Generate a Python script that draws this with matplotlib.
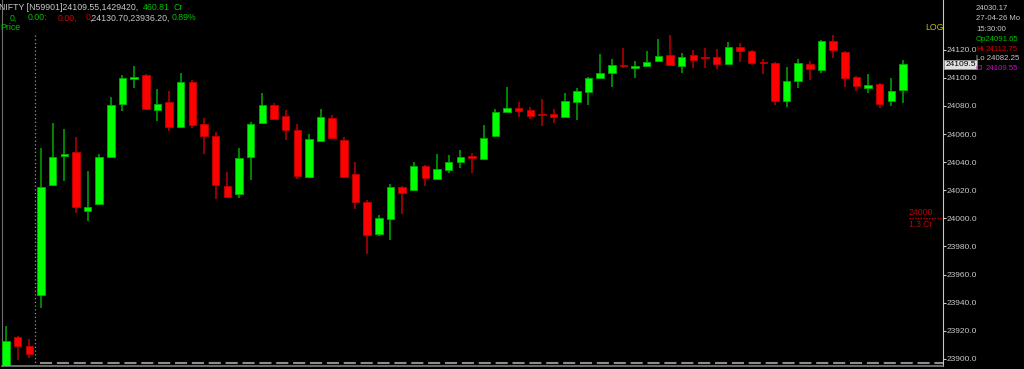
import matplotlib
matplotlib.use("Agg")
import matplotlib.pyplot as plt
import matplotlib.transforms as mtransforms
import numpy as np

# 5 minute NIFTY candles, 3 from the previous session then 27-04-26 session
opens = [23894.0, 23915.3, 23909.3, 23945.2, 24023.7, 24044.6, 24047.2, 24005.4, 24010.2, 24043.8,
         24081.1, 24098.9, 24102.2, 24077.1, 24082.8, 24064.8, 24096.8, 24066.9, 24058.6, 24022.8,
         24017.5, 24043.4, 24068.0, 24080.6, 24073.0, 24062.8, 24029.4, 24055.0, 24071.2, 24055.7,
         24031.5, 24011.4, 23989.0, 23999.7, 24022.3, 24020.4, 24037.2, 24027.8, 24034.4, 24039.9,
         24044.1, 24042.4, 24058.6, 24075.7, 24078.7, 24076.9, 24073.9, 24074.2, 24072.3, 24083.0,
         24089.7, 24099.9, 24103.6, 24109.3, 24107.2, 24108.6, 24112.0, 24116.4, 24108.6, 24116.4,
         24114.6, 24115.0, 24110.0, 24121.7, 24119.3, 24111.2, 24110.7, 24083.5, 24097.5, 24109.8,
         24105.8, 24126.0, 24118.4, 24100.6, 24092.5, 24095.8, 24083.5, 24091.65]
highs = [23923.6, 23916.5, 23913.9, 24050.2, 24068.0, 24063.3, 24058.1, 24033.7, 24045.6, 24086.1,
         24102.2, 24108.6, 24103.0, 24091.8, 24090.6, 24103.6, 24098.5, 24071.6, 24061.6, 24033.0,
         24049.8, 24068.5, 24089.4, 24082.3, 24076.9, 24067.3, 24059.8, 24078.0, 24073.7, 24058.1,
         24040.3, 24013.0, 24002.3, 24024.4, 24023.0, 24040.3, 24037.9, 24045.8, 24045.3, 24048.8,
         24046.5, 24066.6, 24078.0, 24093.5, 24082.8, 24079.0, 24084.7, 24077.8, 24089.2, 24092.5,
         24100.8, 24116.9, 24113.2, 24121.0, 24111.7, 24119.1, 24127.6, 24130.7, 24117.4, 24119.8,
         24121.0, 24120.5, 24125.3, 24124.6, 24120.0, 24113.2, 24111.0, 24107.9, 24113.2, 24112.2,
         24126.9, 24130.5, 24118.8, 24101.0, 24102.9, 24096.3, 24100.1, 24112.75]
lows = [23893.0, 23899.1, 23900.4, 23936.2, 24023.0, 24026.5, 24004.0, 23998.3, 24009.5, 24043.0,
        24076.4, 24093.0, 24077.0, 24069.3, 24062.1, 24064.0, 24064.5, 24046.0, 24013.7, 24015.0,
        24014.7, 24027.0, 24066.9, 24070.5, 24055.5, 24027.8, 24029.0, 24054.1, 24056.5, 24029.0,
        24006.4, 23974.6, 23987.6, 23984.6, 24003.1, 24019.4, 24023.0, 24027.5, 24032.5, 24036.0,
        24032.0, 24042.0, 24058.2, 24075.4, 24071.9, 24070.7, 24065.9, 24068.0, 24072.0, 24070.0,
        24080.4, 24099.5, 24093.7, 24107.2, 24100.1, 24107.7, 24111.5, 24109.0, 24103.2, 24107.2,
        24107.2, 24106.5, 24109.5, 24111.5, 24109.3, 24102.9, 24080.9, 24079.4, 24092.5, 24098.4,
        24103.6, 24114.1, 24093.7, 24090.6, 24089.4, 24078.5, 24079.9, 24082.25]
closes = [23912.9, 23909.3, 23903.4, 24022.5, 24043.6, 24045.8, 24007.8, 24008.0, 24043.6, 24080.9,
          24099.6, 24100.8, 24078.0, 24081.6, 24065.0, 24097.2, 24066.2, 24058.4, 24023.7, 24015.4,
          24043.1, 24067.3, 24080.4, 24070.9, 24062.8, 24030.3, 24056.2, 24072.1, 24056.9, 24029.4,
          24011.8, 23988.1, 24000.4, 24022.1, 24018.2, 24037.4, 24028.5, 24035.1, 24040.3, 24043.6,
          24043.1, 24057.2, 24075.9, 24078.3, 24076.4, 24072.6, 24073.2, 24072.1, 24083.3, 24090.4,
          24100.1, 24103.4, 24109.3, 24108.2, 24108.4, 24111.0, 24115.7, 24109.3, 24115.0, 24112.9,
          24113.9, 24110.0, 24121.7, 24119.1, 24110.5, 24110.5, 24083.5, 24097.7, 24110.3, 24106.0,
          24126.4, 24119.6, 24099.9, 24094.0, 24094.7, 24081.6, 24090.8, 24109.55]

session_start = 2.5          # dotted separator between sessions
day_low_line = 23897.3
last_price = 24109.55
alert_price = 24000
yticks = np.arange(23900, 24121, 20)

W, H = 1024, 369
fig = plt.figure(figsize=(W / 100, H / 100), dpi=100, facecolor="black")
ax = fig.add_axes([2 / W, 3 / H, 941 / W, 366 / H], facecolor="black")

n = len(opens)
x = np.arange(n)
o = np.array(opens)
c = np.array(closes)
up = c >= o
up[[40, 46, 53, 60, 65]] = False

body_col = np.where(up, "#00ff00", "#ff0000")
edge_col = np.where(up, "#00b000", "#c00000")
wick_col = np.where(up, "#009000", "#a00000")

ax.vlines(x, lows, highs, colors=wick_col, linewidth=1.3, zorder=2)
bottoms = np.minimum(o, c)
heights = np.maximum(np.abs(c - o), 1.0)
ax.bar(x, heights, bottom=bottoms, width=0.64, color=body_col,
       edgecolor=edge_col, linewidth=0.6, zorder=3)

ax.set_xlim(-0.343, 80.43)
ax.set_ylim(23894.9, 24155.4)

# session separator and bottom dashed line
ax.vlines(session_start, 23890, 24132, colors="#909090", linestyles=(0, (1, 2)), linewidth=0.9)
ax.hlines(day_low_line, 2.9, 80.43, colors="#8c8c8c", linestyles=(0, (5.8, 2.3)), linewidth=1.5)

# alert level
ax.hlines(alert_price, 77.5, 80.43, colors="#c00000", linestyles=(0, (1, 1)), linewidth=1)
ax.text(77.5, alert_price + 1.2, "24000", color="#c00000", fontsize=6.2,
        family="Liberation Sans", ha="left", va="bottom")
ax.text(77.5, alert_price - 1.2, "1.3 Cr", color="#c00000", fontsize=6.2,
        family="Liberation Sans", ha="left", va="top")

# right price axis
ax.yaxis.tick_right()
ax.set_yticks(yticks)
ax.set_yticklabels([f"{v:.1f}" for v in yticks])
ax.tick_params(axis="y", colors="#c8c8c8", labelcolor="#c8c8c8", labelsize=6.0,
               length=2.2, width=0.8, pad=0.3)
for lab in ax.get_yticklabels():
    lab.set_family("Liberation Sans")
ax.set_xticks([])
ax.spines["top"].set_visible(False)
ax.spines["right"].set_color("#c8c8c8")
ax.spines["left"].set_color("#707070")
ax.spines["bottom"].set_color("#808080")
ax.spines["bottom"].set_linewidth(1.2)

trans = mtransforms.blended_transform_factory(ax.transAxes, ax.transData)
ax.text(1.0025, last_price, "24109.5", transform=trans, color="black", fontsize=6.0,
        family="Liberation Sans", ha="left", va="center", clip_on=False,
        bbox=dict(facecolor="#e0e0e0", edgecolor="#909090", linewidth=0.6, pad=0.9))

ax.text(0.9815, 24135.5, "LOG", transform=trans, color="#c0c000", fontsize=6.3,
        family="Liberation Sans", ha="left", va="center")


def ftext(px, py, s, color, size=6.3):
    fig.text(px / W, 1 - py / H, s, color=color, fontsize=size,
             family="Liberation Sans", ha="left", va="center")


grey = "#c8c8c8"
green = "#00c000"
red = "#d00000"
magenta = "#d000d0"

# header
ftext(-1, 7, "NIFTY [N59901]24109.55,1429420,", grey)
ftext(143, 7, "460.81", green)
ftext(173, 7, "Cr", green)
ftext(10, 18, "0,", green)
ftext(28, 18, "0.00:", green)
ftext(58, 18, "0.00,", red)
ftext(86, 18, "0", red)
ftext(89, 18, ",24130.70,23936.20,", grey)
ftext(172, 18, "0.89%", green)
ftext(0, 28, "Price", green)

# info panel
ps = 5.6
ftext(976, 8, "24030.17", grey, ps)
ftext(976, 19, "27-04-26 Mo", grey, ps)
ftext(976, 29.5, "15:30:00", grey, ps)
ftext(976, 39.5, "Op24091.65", green, ps)
ftext(976, 49.5, "Hi", red, ps)
ftext(986, 49.5, "24112.75", red, ps)
ftext(976, 59, "Lo 24082.25", grey, ps)
ftext(976, 68.5, "Cl", magenta, ps)
ftext(986, 68.5, "24109.55", magenta, ps)

fig.savefig("out.png", dpi=100, facecolor="black")
